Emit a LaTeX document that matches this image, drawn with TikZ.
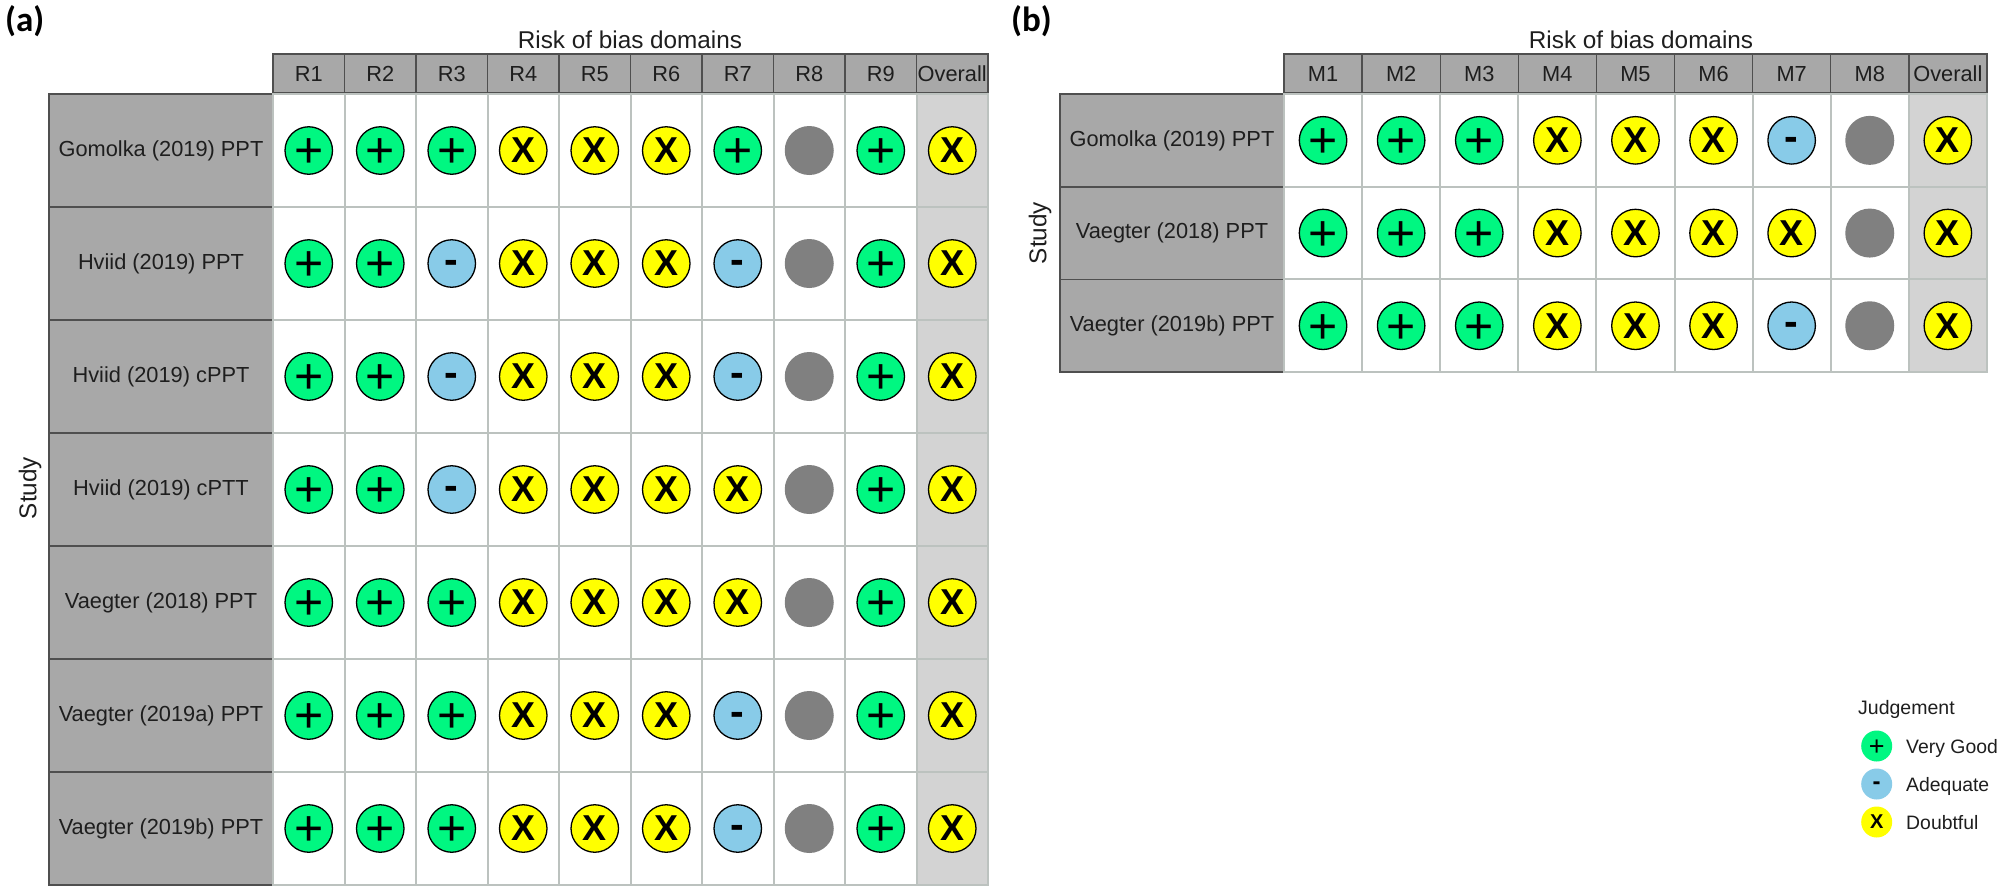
\documentclass[tikz,border=0pt]{standalone}
\usepackage{fontspec}
\setmainfont{Liberation Sans}
\newfontfamily\panelfont{Carlito}
\definecolor{headfill}{HTML}{A8A8A8}
\definecolor{headline}{HTML}{4F4F4F}
\definecolor{gridline}{HTML}{BCC2BF}
\definecolor{overallfill}{HTML}{D3D3D3}
\definecolor{goodfill}{HTML}{00F781}
\definecolor{adequatefill}{HTML}{88CBE8}
\definecolor{doubtfill}{HTML}{FFFF00}
\definecolor{nofill}{HTML}{808080}
\definecolor{labelink}{HTML}{1E1E1E}
\newcommand{\fs}[1]{\fontsize{#1}{#1}\selectfont}
\newcommand{\glyphat}[2]{\raisebox{-#1em}[0pt][0pt]{#2}}
\newcommand{\symp}{\fs{50}\glyphat{.345}{+}}
\newcommand{\symm}{\fs{41}\bfseries\glyphat{.245}{-}}
\newcommand{\symx}{\fs{36}\bfseries\glyphat{.344}{X}}
\newcommand{\symn}{}
\tikzset{
  x=1pt,y=-1pt,
  headcell/.style={draw=headline,fill=headfill,line width=1.4pt,inner sep=0pt,text=labelink,font=\fs{21.8},text height=15.6pt,text depth=0pt},
  studycell/.style={draw=headline,fill=headfill,line width=1.6pt,inner sep=0pt,text=labelink,font=\fs{21.8},text height=15.6pt,text depth=4pt},
  gridcell/.style={draw=gridline,fill=white,line width=2pt,inner sep=0pt},
  overallcell/.style={draw=gridline,fill=overallfill,line width=2pt,inner sep=0pt},
  judge/.style={circle,inner sep=0pt,minimum size=47.5pt,line width=1.3pt,draw=black,text=black},
  jp/.style={judge,fill=goodfill},
  jm/.style={judge,fill=adequatefill},
  jx/.style={judge,fill=doubtfill},
  jn/.style={circle,inner sep=0pt,minimum size=49pt,fill=nofill},
  legdot/.style={circle,inner sep=0pt,minimum size=31pt,text=black},
  legtext/.style={anchor=west,inner sep=0pt,text=labelink,font=\fs{19.4},text height=13.9pt,text depth=0pt},
  axistitle/.style={inner sep=0pt,text=labelink,font=\fs{24.3}},
  panel/.style={inner sep=0pt,anchor=west,text=black,font=\panelfont\fs{35}\bfseries},
}
\begin{document}
\begin{tikzpicture}
\useasboundingbox (0,0) rectangle (2000,887);
\fill[white] (0,0) rectangle (2000,887);
% ---- panel a
\def\xa{273}\def\wa{71.5}\def\ya{94}\def\ha{113}
\foreach \lab [count=\c] in {R1,R2,R3,R4,R5,R6,R7,R8,R9,Overall}{
  \node[headcell,minimum width=\wa pt,minimum height=39pt] (ah\c) at ({\xa+(\c-.5)*\wa},73.5) {\lab};
}
\foreach \lab/\row [count=\r] in {
  Gomolka (2019) PPT/{p,p,p,x,x,x,p,n,p,x},
  Hviid (2019) PPT/{p,p,m,x,x,x,m,n,p,x},
  Hviid (2019) cPPT/{p,p,m,x,x,x,m,n,p,x},
  Hviid (2019) cPTT/{p,p,m,x,x,x,x,n,p,x},
  Vaegter (2018) PPT/{p,p,p,x,x,x,x,n,p,x},
  Vaegter (2019a) PPT/{p,p,p,x,x,x,m,n,p,x},
  Vaegter (2019b) PPT/{p,p,p,x,x,x,m,n,p,x}}{
  \node[studycell,minimum width=224pt,minimum height=\ha pt] (as\r) at (161,{\ya+(\r-.5)*\ha}) {\lab};
  \foreach \code [count=\c] in \row {
    \ifnum\c=10 \def\cellstyle{overallcell}\else\def\cellstyle{gridcell}\fi
    \node[\cellstyle,minimum width=\wa pt,minimum height=\ha pt] (ag\r-\c) at ({\xa+(\c-.5)*\wa},{\ya+(\r-.5)*\ha}) {};
    \node[j\code] (aj\r-\c) at (ag\r-\c.center) {\csname sym\code\endcsname};
  }
}
\node[axistitle] (atitle) at (630,40) {Risk of bias domains};
\node[axistitle,rotate=90] (astudy) at (30,488) {Study};
\node[panel] (apanel) at (5,21) {(a)};
% ---- panel b
\def\xb{1284}\def\wb{78.1}\def\yb{94}\def\hb{92.7}
\foreach \lab [count=\c] in {M1,M2,M3,M4,M5,M6,M7,M8,Overall}{
  \node[headcell,minimum width=\wb pt,minimum height=39pt] (bh\c) at ({\xb+(\c-.5)*\wb},73.5) {\lab};
}
\foreach \lab/\row [count=\r] in {
  Gomolka (2019) PPT/{p,p,p,x,x,x,m,n,x},
  Vaegter (2018) PPT/{p,p,p,x,x,x,x,n,x},
  Vaegter (2019b) PPT/{p,p,p,x,x,x,m,n,x}}{
  \node[studycell,minimum width=224pt,minimum height=\hb pt] (bs\r) at (1172,{\yb+(\r-.5)*\hb}) {\lab};
  \foreach \code [count=\c] in \row {
    \ifnum\c=9 \def\cellstyle{overallcell}\else\def\cellstyle{gridcell}\fi
    \node[\cellstyle,minimum width=\wb pt,minimum height=\hb pt] (bg\r-\c) at ({\xb+(\c-.5)*\wb},{\yb+(\r-.5)*\hb}) {};
    \node[j\code] (bj\r-\c) at (bg\r-\c.center) {\csname sym\code\endcsname};
  }
}
\node[axistitle] (btitle) at (1641,40) {Risk of bias domains};
\node[axistitle,rotate=90] (bstudy) at (1040,233) {Study};
\node[panel] (bpanel) at (1011,21) {(b)};
% ---- legend
\node[anchor=west,inner sep=0pt,text=labelink,font=\fs{19.5}] (legtitle) at (1858,709) {Judgement};
\node[legdot,fill=goodfill] (l1) at (1876.7,746) {\fs{27}\glyphat{.345}{+}};
\node[legdot,fill=adequatefill] (l2) at (1876.7,784) {\fs{24}\bfseries\glyphat{.245}{-}};
\node[legdot,fill=doubtfill] (l3) at (1876.7,822) {\fs{20}\bfseries\glyphat{.344}{X}};
\node[legtext] (t1) at (1906,746.7) {Very Good};
\node[legtext] (t2) at (1906,784.3) {Adequate};
\node[legtext] (t3) at (1906,822.3) {Doubtful};
\end{tikzpicture}
\end{document}
